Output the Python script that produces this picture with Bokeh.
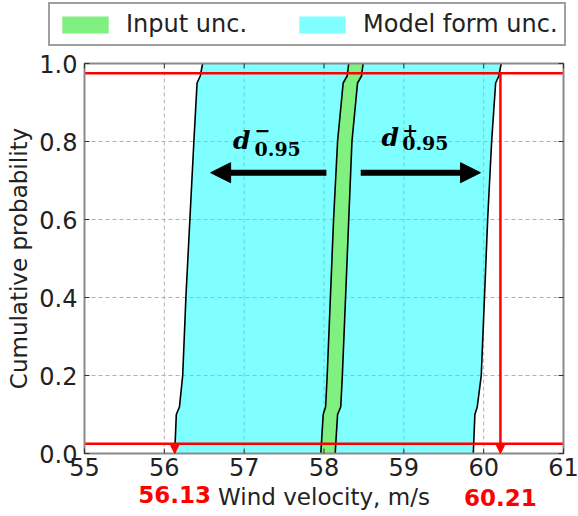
import math
from bokeh.plotting import figure
from bokeh.models import Range1d, Legend, LegendItem, Label, Arrow, NormalHead
from bokeh.core.properties import value
from bokeh.embed import file_html
from bokeh.resources import INLINE

# ---- data ----
prob = [0.0, 0.10, 0.12, 0.2, 0.4, 0.6, 0.8, 0.95, 0.968, 1.0]
model_lower = [56.13, 56.15, 56.19, 56.23, 56.27, 56.32, 56.37, 56.41, 56.45, 56.48]
model_upper = [59.87, 59.89, 59.92, 59.97, 60.01, 60.05, 60.10, 60.15, 60.19, 60.22]
input_lower = [57.96, 57.99, 58.02, 58.04, 58.08, 58.12, 58.17, 58.24, 58.29, 58.31]
input_upper = [58.14, 58.17, 58.21, 58.23, 58.27, 58.31, 58.35, 58.42, 58.47, 58.49]

x_ticks = [55, 56, 57, 58, 59, 60, 61]
x_tick_labels = ["55", "56", "57", "58", "59", "60", "61"]
y_ticks = [0.0, 0.2, 0.4, 0.6, 0.8, 1.0]
y_tick_labels = ["0.0", "0.2", "0.4", "0.6", "0.8", "1.0"]

series_names = ["Input unc.", "Model form unc."]
x_title = "Wind velocity, m/s"
y_title = "Cumulative probability"

p_low, p_high = 0.025, 0.975
bound_low, bound_high = 56.13, 60.21
bound_labels = ["56.13", "60.21"]
arrow_level = 0.72
arrow_left = (58.03, 56.58)
arrow_right = (58.46, 59.96)

# ---- layout geometry (pixels) ----
W, H = 578, 516
LEFT, RIGHT, TOP, BOTTOM = 84, 15, 63, 63      # plot box margins
X0, X1, Y0, Y1 = 55, 61, 0.0, 1.0
kx = (W - LEFT - RIGHT) / (X1 - X0)            # px per x unit
ky = (H - TOP - BOTTOM) / (Y1 - Y0)            # px per y unit
px = lambda n: n / kx
py = lambda n: n / ky

FONT = "DejaVu Sans"
TXT = "#222222"
CYAN = "cyan"
GREEN = "#80f080"
GRID = "#b0b0b0"
BOX = "#8a8a8a"

p = figure(width=W, height=H, output_backend="svg", toolbar_location=None,
           x_axis_type=None, y_axis_type=None,
           x_range=Range1d(X0 - px(LEFT), X1 + px(RIGHT)),
           y_range=Range1d(Y0 - py(BOTTOM), Y1 + py(TOP)),
           min_border=0, min_border_left=0, min_border_right=0,
           min_border_top=0, min_border_bottom=0)
p.outline_line_color = None
p.background_fill_color = "white"
p.border_fill_color = "white"

# grid
p.segment(x0=x_ticks, x1=x_ticks, y0=[Y0] * len(x_ticks), y1=[Y1] * len(x_ticks),
          line_color=GRID, line_dash="4 3", line_width=1)
p.segment(x0=[X0] * len(y_ticks), x1=[X1] * len(y_ticks), y0=y_ticks, y1=y_ticks,
          line_color=GRID, line_dash="4 3", line_width=1)

# bands
model_r = p.harea(x1=model_lower, x2=model_upper, y=prob, fill_color=CYAN, fill_alpha=0.5)
input_r = p.harea(x1=input_lower, x2=input_upper, y=prob, fill_color=GREEN, fill_alpha=1.0)
for xs in (model_lower, model_upper, input_lower, input_upper):
    p.line(x=xs, y=prob, line_color="black", line_width=1.6)

# red probability levels and bound markers
p.segment(x0=[X0, X0], x1=[X1, X1], y0=[p_low, p_high], y1=[p_low, p_high],
          line_color="red", line_width=2.5)
p.add_layout(Arrow(end=NormalHead(size=8, fill_color="red", line_color="red"),
                   x_start=bound_high, y_start=p_high, x_end=bound_high, y_end=Y0,
                   line_color="red", line_width=2.5))
p.add_layout(Arrow(end=NormalHead(size=8, fill_color="red", line_color="red"),
                   x_start=bound_low, y_start=p_low, x_end=bound_low, y_end=Y0,
                   line_color="red", line_width=2.5))

# black arrows
for (xs, xe) in (arrow_left, arrow_right):
    p.add_layout(Arrow(end=NormalHead(size=20, fill_color="black", line_color="black"),
                       x_start=xs, y_start=arrow_level, x_end=xe, y_end=arrow_level,
                       line_color="black", line_width=6))

# d annotations (positions are the tops of the text boxes)
def d_label(x_d, y_d, sign, x_sign, y_sign, x_sub, y_sub):
    p.add_layout(Label(x=x_d, y=y_d, text="d", text_font="DejaVu Serif",
                       text_font_style="bold italic", text_font_size="25px",
                       text_baseline="top", text_align="left", text_color="black"))
    p.add_layout(Label(x=x_sign, y=y_sign, text=sign, text_font="DejaVu Serif",
                       text_font_style="bold", text_font_size="19px",
                       text_baseline="middle", text_align="center", text_color="black"))
    p.add_layout(Label(x=x_sub, y=y_sub, text="0.95", text_font="DejaVu Serif",
                       text_font_style="bold", text_font_size="19px",
                       text_baseline="top", text_align="left", text_color="black"))

d_label(56.86, 0.8385, "\u2212", 57.23, 0.829, 57.13, 0.800)
d_label(58.72, 0.8469, "+", 59.08, 0.830, 58.98, 0.814)

# plot box
p.quad(left=[X0], right=[X1], bottom=[Y0], top=[Y1], fill_color=None,
       line_color=BOX, line_width=2)

# inward tick marks on all four sides (5 px)
ny, nx = len(y_ticks), len(x_ticks)
p.segment(x0=[X0] * ny, x1=[X0 + px(5)] * ny, y0=y_ticks, y1=y_ticks, line_color="#333333")
p.segment(x0=[X1 - px(5)] * ny, x1=[X1] * ny, y0=y_ticks, y1=y_ticks, line_color="#333333")
p.segment(x0=x_ticks, x1=x_ticks, y0=[Y0] * nx, y1=[Y0 + py(5)] * nx, line_color="#333333")
p.segment(x0=x_ticks, x1=x_ticks, y0=[Y1 - py(5)] * nx, y1=[Y1] * nx, line_color="#333333")

# tick labels
p.text(x=x_ticks, y=[Y0 - py(4)] * nx, text=x_tick_labels, text_font=value(FONT),
       text_font_size="24px", text_color=TXT, text_align="center", text_baseline="top")
p.text(x=[X0 - px(7)] * ny, y=y_ticks, text=y_tick_labels, text_font=value(FONT),
       text_font_size="24px", text_color=TXT, text_align="right", text_baseline="middle")

# axis titles
p.text(x=[X0 - px(66)], y=[(Y0 + Y1) / 2], text=[y_title], angle=math.pi / 2,
       text_font=value(FONT), text_font_size="23px", text_color=TXT,
       text_align="center", text_baseline="middle")
p.text(x=[(X0 + X1) / 2], y=[Y0 - py(30.5)], text=[x_title], text_font=value(FONT),
       text_font_size="23px", text_color=TXT, text_align="center", text_baseline="top")

# red bound values
p.text(x=[bound_low, bound_high], y=[Y0 - py(32.5), Y0 - py(35.5)], text=bound_labels,
       text_font=value(FONT), text_font_style="bold", text_font_size="23px",
       text_color="red", text_align="center", text_baseline="top")

# legend above the plot box
legend = Legend(items=[LegendItem(label=series_names[0], renderers=[input_r]),
                       LegendItem(label=series_names[1], renderers=[model_r])],
                orientation="horizontal", location=(48, H - 46))
legend.label_text_font = FONT
legend.label_text_font_size = "24px"
legend.label_text_color = TXT
legend.glyph_width = 58
legend.glyph_height = 21
legend.label_standoff = 12
legend.spacing = 46
legend.padding = 6
legend.margin = 0
legend.label_height = 28
legend.border_line_color = "#404040"
legend.border_line_width = 2
legend.background_fill_color = "white"
legend.background_fill_alpha = 1.0
p.add_layout(legend, "center")

open("out.html", "w").write(file_html(p, INLINE))
